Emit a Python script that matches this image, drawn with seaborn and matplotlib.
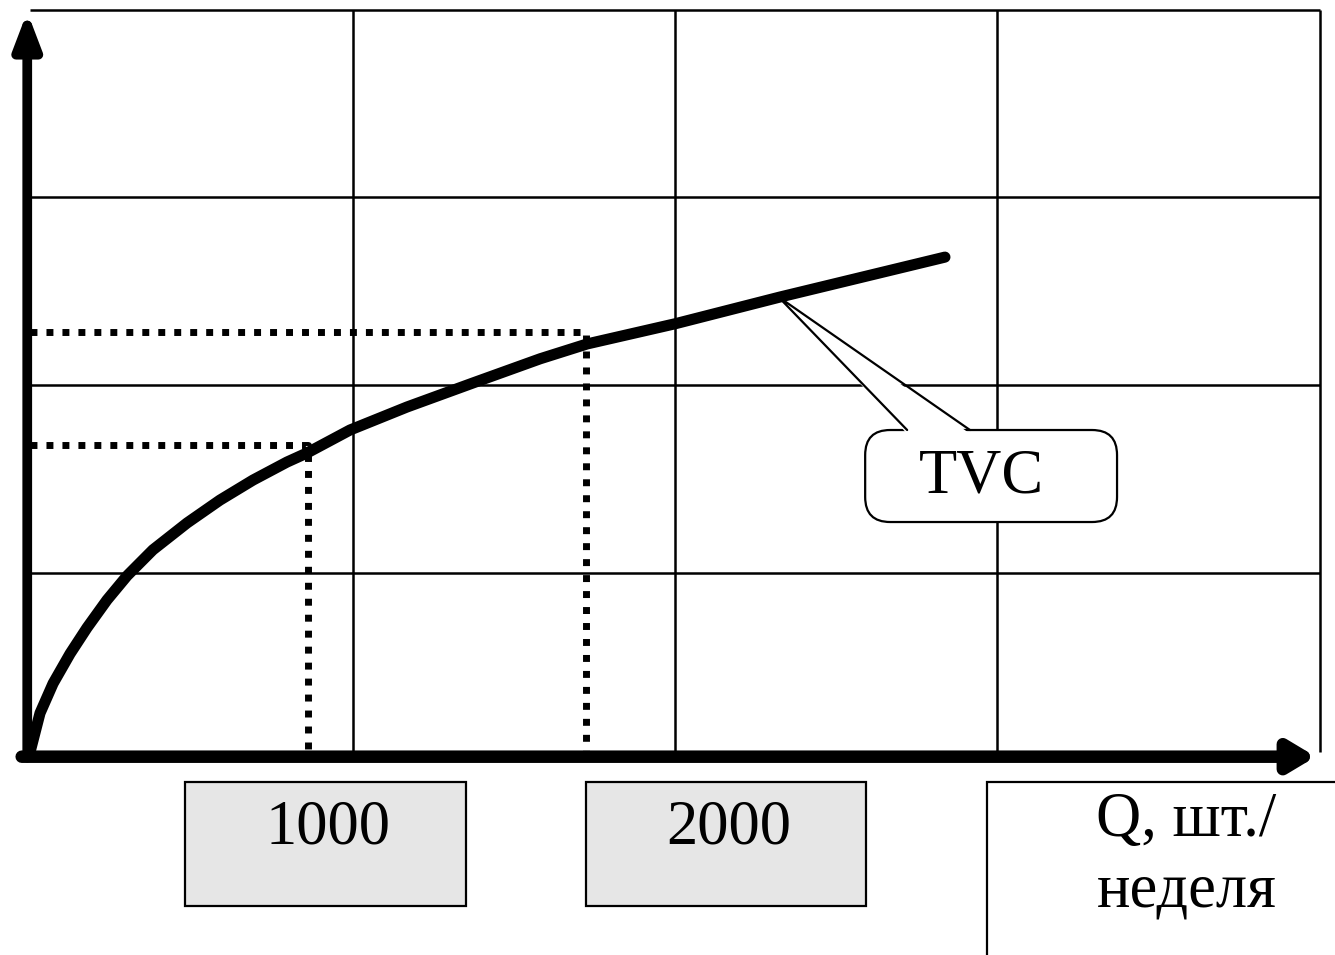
import matplotlib
matplotlib.use('Agg')
import matplotlib.pyplot as plt
import seaborn as sns
from matplotlib.patches import Rectangle, FancyBboxPatch, Polygon

# curve TVC (Q, шт./неделя -> TVC in grid units)
q_curve = [0, 36, 83, 144, 205, 277, 349, 442, 565, 683, 802, 924, 996, 1151, 1356, 1594,
           1835, 2004, 2324, 2698, 3291]
tvc_curve = [0, 0.21, 0.37, 0.53, 0.67, 0.82, 0.95, 1.09, 1.235, 1.358, 1.466, 1.563, 1.612,
             1.736, 1.86, 1.99, 2.12, 2.2, 2.31, 2.453, 2.668]

# dotted guide lines
q_marks = [1000, 2000]
tvc_marks = [1.655, 2.264]

# grid positions
grid_q = [1160, 2320, 3480, 4640]
grid_tvc = [0.965, 1.98, 2.99, 4.0]

tick_labels = ['1000', '2000']
x_label = ['Q, шт./', 'неделя']
curve_label = 'TVC'

sns.set_theme(style='white')
plt.rcParams['font.family'] = ['Liberation Serif', 'DejaVu Serif']
plt.rcParams['text.color'] = 'black'

fig = plt.figure(figsize=(13.35, 9.55), dpi=100)
ax = fig.add_axes([0, 0, 1, 1])
ax.set_xlim(-108, 4694)
ax.set_ylim(-1.094, 4.054)
ax.axis('off')

# grid
ax.vlines(grid_q, 0, grid_tvc[-1], color='black', lw=1.8, zorder=1)
ax.hlines(grid_tvc, 0, grid_q[-1], color='black', lw=1.8, zorder=1)

# dotted lines
for q, t in zip(q_marks, tvc_marks):
    ax.plot([0, q, q], [t, t, 0], color='black', lw=5,
            linestyle=(0, (1.0, 1.3)), solid_capstyle='butt', zorder=2)

# axes with arrows
y_arrow = dict(arrowstyle='-|>,head_length=1.05,head_width=0.4', lw=7, color='black',
               shrinkA=0, shrinkB=0, mutation_scale=20)
x_arrow = dict(arrowstyle='-|>,head_length=0.75,head_width=0.45', lw=9, color='black',
               shrinkA=0, shrinkB=0, mutation_scale=20)
ax.annotate('', xy=(-10, 3.99), xytext=(-10, -0.03), arrowprops=y_arrow, zorder=4)
ax.annotate('', xy=(4625, -0.025), xytext=(-30, -0.025), arrowprops=x_arrow, zorder=4)

# TVC curve
sns.lineplot(x=q_curve, y=tvc_curve, color='black', lw=8, ax=ax, zorder=6)

# callout
aspect = (1 / 185.5) / (1000 / 278)
callout = FancyBboxPatch((3004, 1.240), 906, 0.496,
                         boxstyle='round,pad=0,rounding_size=90',
                         mutation_aspect=aspect, facecolor='white',
                         edgecolor='black', lw=1.6, zorder=5)
ax.add_patch(callout)
tip = (2691, 2.455)
base_l = (3155, 1.736)
base_r = (3381, 1.736)
ax.add_patch(Polygon([tip, (base_l[0], base_l[1] - 0.02), (base_r[0], base_r[1] - 0.02)],
                     closed=True, facecolor='white', edgecolor='none', zorder=5.1))
ax.plot([base_l[0], tip[0], base_r[0]], [base_l[1], tip[1], base_r[1]],
        color='black', lw=1.6, zorder=5.2)
ax.text(3424, 1.48, curve_label, ha='center', va='center', fontsize=45, color='black', zorder=5.3)

# label boxes under axis
for x0, w, label in [(558, 1010, tick_labels[0]), (2000, 1007, tick_labels[1])]:
    ax.add_patch(Rectangle((x0, -0.830), w, 0.668, facecolor='#e6e6e6',
                           edgecolor='black', lw=1.6, zorder=3))
    ax.text(x0 + w / 2 + 10, -0.41, label, ha='center', va='center', fontsize=45,
            color='black', zorder=4)

ax.add_patch(Rectangle((3442, -1.2), 1400, 1.038, facecolor='white',
                       edgecolor='black', lw=1.6, zorder=3))
ax.text(4160, -0.37, x_label[0], ha='center', va='center', fontsize=45, color='black', zorder=4)
ax.text(4160, -0.75, x_label[1], ha='center', va='center', fontsize=45, color='black', zorder=4)

fig.savefig('out.png', dpi=100)
